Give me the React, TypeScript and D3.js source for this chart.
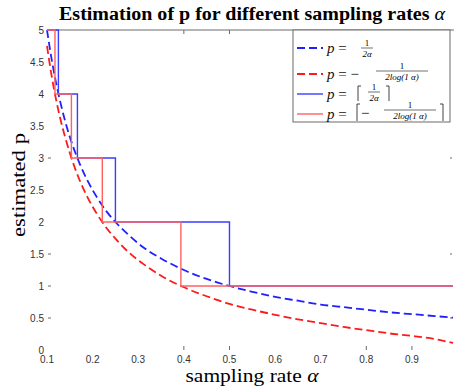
import * as d3 from 'd3';

// ─── Data ───────────────────────────────────────────────────

const alphas = [
  0.1, 0.11, 0.12, 0.13, 0.14, 0.15, 0.17, 0.19, 0.21, 0.23, 0.25, 0.28, 0.31,
  0.35, 0.4, 0.45, 0.5, 0.55, 0.6, 0.65, 0.7, 0.75, 0.8, 0.85, 0.9, 0.95, 0.99,
];
// p = 1 / (2 alpha)
const pInverse = [
  5, 4.55, 4.17, 3.85, 3.57, 3.33, 2.94, 2.63, 2.38, 2.17, 2, 1.79, 1.61,
  1.43, 1.25, 1.11, 1, 0.91, 0.83, 0.77, 0.71, 0.67, 0.63, 0.59, 0.56, 0.53, 0.505,
];
// p = -1 / (2 log(1 - alpha))
const pLog = [
  4.75, 4.29, 3.91, 3.59, 3.32, 3.08, 2.68, 2.37, 2.12, 1.91, 1.74, 1.52, 1.35,
  1.16, 0.98, 0.84, 0.72, 0.63, 0.55, 0.48, 0.42, 0.36, 0.31, 0.26, 0.22, 0.17, 0.11,
];

// ceil'd versions as step breakpoints
const blueStepX = [0.1, 0.125, 0.1667, 0.25, 0.5, 0.99];
const blueStepP = [5, 4, 3, 2, 1, 1];
const redStepX = [0.1, 0.1175, 0.1535, 0.2212, 0.3935, 0.99];
const redStepP = [5, 4, 3, 2, 1, 1];

const xTicks = [0.1, 0.2, 0.3, 0.4, 0.5, 0.6, 0.7, 0.8, 0.9];
const yTicks = [0, 0.5, 1, 1.5, 2, 2.5, 3, 3.5, 4, 4.5, 5];
const xTickMarks = [0.4, 0.5, 0.8, 0.9];
const yTickMarks = [0.5, 1, 1.5, 3];

// ─── Style ──────────────────────────────────────────────────

const W = 454;
const H = 386;
const BLUE = '#2020ff';
const RED = '#ff1a1a';
const BLUE_STEP = '#3c3cff';
const RED_STEP = '#ff6060';
const AXIS = '#6a6a6a';
const SERIF = '"Liberation Serif", "DejaVu Serif", serif';
const SANS = '"Liberation Sans", Arial, sans-serif';

type Pt = [number, number];

function Frac({ x, y, num, den, size = 9, w }: { x: number; y: number; num: string; den: string; size?: number; w: number }) {
  // x = centre, y = fraction bar
  return (
    <g fontFamily={SERIF} fontSize={size} textAnchor="middle">
      <text x={x} y={y - 2}>{num}</text>
      <line x1={x - w / 2} x2={x + w / 2} y1={y} y2={y} stroke="#111" strokeWidth={0.6} />
      <text x={x} y={y + size - 0.5} fontStyle="italic">{den}</text>
    </g>
  );
}

function Ceil({ x, y1, y2, right }: { x: number; y1: number; y2: number; right?: boolean }) {
  const d = right ? -3 : 3;
  return <path d={`M${x + d},${y1} H${x} V${y2}`} fill="none" stroke="#111" strokeWidth={0.8} />;
}

export default function App() {
  const x = d3.scaleLinear().domain([0.1, 0.99]).range([47, 453]);
  const y = d3.scaleLinear().domain([0, 5]).range([350, 30]);

  const smooth = d3.line<Pt>().x((d) => x(d[0])).y((d) => y(d[1])).curve(d3.curveMonotoneX);
  const stairs = d3.line<Pt>().x((d) => x(d[0])).y((d) => y(d[1])).curve(d3.curveStepAfter);

  const inv: Pt[] = alphas.map((a, i) => [a, pInverse[i]]);
  const lg: Pt[] = alphas.map((a, i) => [a, pLog[i]]);
  const blueSteps: Pt[] = blueStepX.map((a, i) => [a, blueStepP[i]]);
  const redSteps: Pt[] = redStepX.map((a, i) => [a, redStepP[i]]);

  const top = y(5);
  const bottom = y(0);

  return (
    <svg width={W} height={H} style={{ position: 'absolute', left: 0, top: 0, background: '#fff' }}>
      {/* title */}
      <text x={252} y={20} textAnchor="middle" fontFamily={SERIF} fontWeight="bold" fontSize={18}
        textLength={386} lengthAdjust="spacingAndGlyphs">
        Estimation of p for different sampling rates <tspan fontStyle="italic" fontWeight="normal">α</tspan>
      </text>

      {/* top frame line + ticks */}
      <line x1={x(0.1)} x2={W} y1={top} y2={top} stroke={AXIS} strokeWidth={1} />
      {xTickMarks.map((t) => (
        <g key={t} stroke={AXIS}>
          <line x1={x(t)} x2={x(t)} y1={top} y2={top + 4} />
          <line x1={x(t)} x2={x(t)} y1={bottom} y2={bottom - 4} />
        </g>
      ))}
      {yTickMarks.map((t) => (
        <g key={t} stroke={AXIS}>
          <line x1={x(0.1) + 1} x2={x(0.1) + 4} y1={y(t)} y2={y(t)} />
          <line x1={x(0.99) - 1} x2={x(0.99) - 3} y1={y(t)} y2={y(t)} />
        </g>
      ))}

      {/* tick labels */}
      <g fontFamily={SANS} fontSize={10} fill="#333">
        {xTicks.map((t) => (
          <text key={t} x={x(t)} y={363} textAnchor="middle">{t.toFixed(1)}</text>
        ))}
        {yTicks.map((t) => (
          <text key={t} x={44} y={y(t) + 3.5} textAnchor="end">{String(t)}</text>
        ))}
      </g>

      {/* axis labels */}
      <text x={252} y={382} textAnchor="middle" fontFamily={SERIF} fontSize={19}
        textLength={133} lengthAdjust="spacingAndGlyphs">
        sampling rate <tspan fontStyle="italic">α</tspan>
      </text>
      <text transform="translate(25,185) rotate(-90)" textAnchor="middle" fontFamily={SERIF} fontSize={19}
        textLength={104} lengthAdjust="spacingAndGlyphs">
        estimated p
      </text>

      {/* curves */}
      <path d={smooth(lg) ?? ''} fill="none" stroke={RED} strokeWidth={1.8} strokeDasharray="8 4" />
      <path d={smooth(inv) ?? ''} fill="none" stroke={BLUE} strokeWidth={1.8} strokeDasharray="8 4" />
      <path d={stairs(blueSteps) ?? ''} fill="none" stroke={BLUE_STEP} strokeWidth={1.4} />
      <path d={stairs(redSteps) ?? ''} fill="none" stroke={RED_STEP} strokeWidth={1.4} />

      {/* legend */}
      <g>
        <rect x={293} y={top} width={157} height={92} fill="#fff" stroke={AXIS} strokeWidth={1} />
        <line x1={297} x2={323} y1={48} y2={48} stroke={BLUE} strokeWidth={1.8} strokeDasharray="8 4" />
        <line x1={297} x2={323} y1={74} y2={74} stroke={RED} strokeWidth={1.8} strokeDasharray="8 4" />
        <line x1={297} x2={323} y1={94} y2={94} stroke={BLUE_STEP} strokeWidth={1.4} />
        <line x1={297} x2={323} y1={114} y2={114} stroke={RED_STEP} strokeWidth={1.4} />

        <g fontFamily={SERIF} fontSize={15} fill="#111">
          <text x={327} y={53}><tspan fontStyle="italic">p</tspan> =</text>
          <text x={327} y={79}><tspan fontStyle="italic">p</tspan> = −</text>
          <text x={327} y={99}><tspan fontStyle="italic">p</tspan> =</text>
          <text x={327} y={119}><tspan fontStyle="italic">p</tspan> =</text>
          <text x={361} y={118}>−</text>
        </g>
        <Frac x={367} y={48} num="1" den="2α" w={12} />
        <Frac x={402} y={71} num="1" den="2log(1   α)" w={52} />
        <Ceil x={358} y1={86} y2={101} />
        <Frac x={374} y={92} num="1" den="2α" w={12} />
        <Ceil x={389} y1={86} y2={101} right />
        <Ceil x={357} y1={104} y2={121} />
        <Frac x={410} y={110} num="1" den="2log(1   α)" w={52} />
        <Ceil x={443} y1={104} y2={121} right />
      </g>
    </svg>
  );
}
